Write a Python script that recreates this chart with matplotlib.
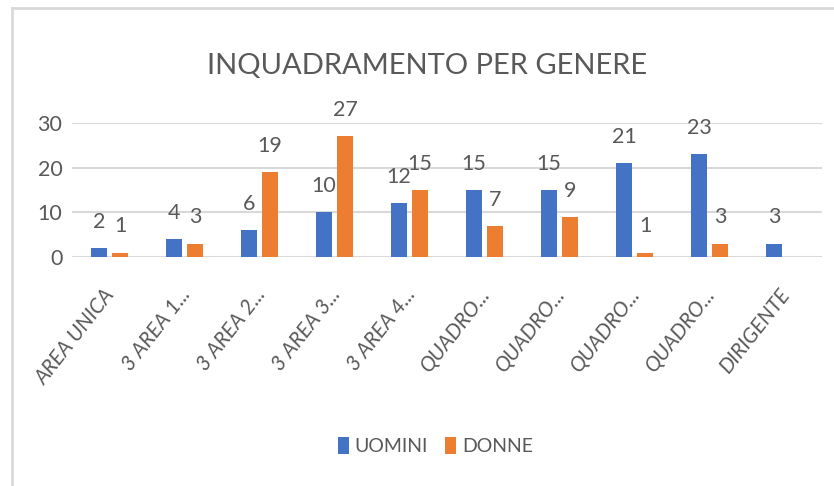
import numpy as np
import matplotlib.pyplot as plt
import matplotlib.transforms as mtransforms
from matplotlib.lines import Line2D

categories = ["AREA UNICA", "3 AREA 1...", "3 AREA 2...", "3 AREA 3...", "3 AREA 4...",
              "QUADRO...", "QUADRO...", "QUADRO...", "QUADRO...", "DIRIGENTE"]
uomini = [2, 4, 6, 10, 12, 15, 15, 21, 23, 3]
donne = [1, 3, 19, 27, 15, 7, 9, 1, 3, 0]
yticks = [0, 10, 20, 30]

plt.rcParams['font.family'] = ['Lato', 'DejaVu Sans']
grey = '#595959'
blue = '#4472C4'
orange = '#ED7D31'

fig = plt.figure(figsize=(8.34, 4.86), dpi=100)
ax = fig.add_axes([72/834, 1 - 257/486, 750/834, 134/486])

x = np.arange(len(categories))
off = 0.14
w = 0.22
ax.bar(x - off, uomini, w, color=blue, label='UOMINI', zorder=3)
ax.bar(x + off, donne, w, color=orange, label='DONNE', zorder=3)

# data labels (no label for an empty bar)
for xi, v in zip(x - off, uomini):
    if v:
        ax.annotate(str(v), (xi, v), xytext=(0, 14.5), textcoords='offset points',
                    ha='center', va='baseline', fontsize=15.5, color=grey)
for xi, v in zip(x + off, donne):
    if v:
        ax.annotate(str(v), (xi, v), xytext=(0, 14.5), textcoords='offset points',
                    ha='center', va='baseline', fontsize=15.5, color=grey)

ax.set_xlim(-0.5, len(categories) - 0.5)
ax.set_ylim(0, 30)
ax.set_yticks(yticks)
ax.yaxis.grid(True, color='#d9d9d9', linewidth=1.5, zorder=0)
ax.set_axisbelow(True)
for s in ax.spines.values():
    s.set_visible(False)
ax.tick_params(length=0)
ax.tick_params(axis='y', labelsize=15.5, labelcolor=grey, pad=7)
ax.set_xticks(x)
ax.set_xticklabels(categories, rotation=52, ha='right', rotation_mode='anchor',
                   fontsize=15, color=grey, style='italic')
ax.tick_params(axis='x', pad=20)
shift = mtransforms.ScaledTranslation(-6/100, 0, fig.dpi_scale_trans)
for lbl in ax.get_xticklabels():
    lbl.set_transform(lbl.get_transform() + shift)

fig.text(0.512, 1 - 74/486, 'INQUADRAMENTO PER GENERE', ha='center', va='baseline',
         fontsize=21, color=grey)

fig.legend(loc='center', bbox_to_anchor=(0.522, 1 - 446/486), ncol=2, frameon=False,
           fontsize=14, labelcolor=grey, handlelength=0.55, handleheight=1.0,
           handletextpad=0.3, columnspacing=0.9)

# outer chart border of the screenshot
fig.add_artist(Line2D([12/834, 1], [1 - 8/486] * 2, color='#d9d9d9', lw=2))
fig.add_artist(Line2D([12/834] * 2, [0, 1 - 8/486], color='#d9d9d9', lw=2))

fig.savefig('out.png', dpi=100)
